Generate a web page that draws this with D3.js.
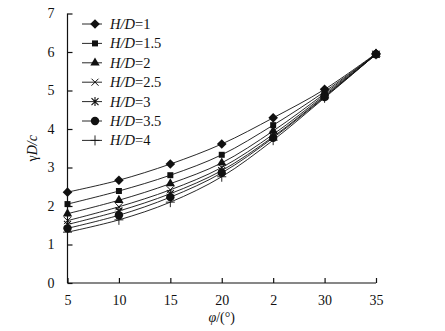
<!DOCTYPE html>
<html>
<head>
<meta charset="utf-8">
<script src="https://cdn.jsdelivr.net/npm/d3@7"></script>
<style>
  body { margin: 0; background: #fff; }
  text { font-family: "Liberation Serif", "DejaVu Serif", serif; fill: #111; }
</style>
</head>
<body>
<div class="vis"></div>
<script>
// x categories (the "2" label is as printed in the original, standing for 25)
const phi = [5, 10, 15, 20, 25, 30, 35];
const xTickLabels = ['5', '10', '15', '20', '2', '30', '35'];
const yTicks = [0, 1, 2, 3, 4, 5, 6, 7];

// gamma*D/c for each H/D
const hd1   = [2.36, 2.67, 3.09, 3.61, 4.29, 5.03, 5.96];
const hd1_5 = [2.05, 2.39, 2.80, 3.33, 4.10, 4.97, 5.95];
const hd2   = [1.80, 2.15, 2.58, 3.12, 3.95, 4.92, 5.95];
const hd2_5 = [1.62, 1.98, 2.42, 3.00, 3.86, 4.88, 5.94];
const hd3   = [1.52, 1.87, 2.32, 2.92, 3.80, 4.85, 5.94];
const hd3_5 = [1.42, 1.76, 2.23, 2.86, 3.77, 4.83, 5.94];
const hd4   = [1.32, 1.64, 2.10, 2.76, 3.71, 4.81, 5.94];

const seriesNames = ['1', '1.5', '2', '2.5', '3', '3.5', '4'];
const seriesValues = [hd1, hd1_5, hd2, hd2_5, hd3, hd3_5, hd4];
const markers = ['diamond', 'square', 'triangle', 'x', 'star', 'circle', 'plus'];

const draw = () => {
  const width = 445, height = 331;
  const margin = {left: 67.5, right: 69, top: 13.5, bottom: 48};

  const svg = d3.select('.vis').append('svg')
    .attr('width', width).attr('height', height);

  const x = d3.scaleLinear().domain([5, 35]).range([margin.left, width - margin.right]);
  const y = d3.scaleLinear().domain([0, 7]).range([height - margin.bottom, margin.top]);

  // axes
  const xAxis = d3.axisBottom(x).tickValues(phi)
    .tickFormat((d, i) => xTickLabels[i]).tickSize(-5).tickPadding(12);
  const gx = svg.append('g').attr('transform', `translate(0,${y(0)})`).call(xAxis);
  gx.select('.domain').attr('d', `M${x(5)},0H${x(35)}`);

  const yAxis = d3.axisLeft(y).tickValues(yTicks).tickFormat(d3.format('d'))
    .tickSize(-5).tickPadding(13);
  const gy = svg.append('g').attr('transform', `translate(${x(5)},0)`).call(yAxis);
  gy.select('.domain').attr('d', `M0,${y(7)}V${y(0)}`);

  svg.selectAll('.tick text').style('font-size', '14px')
    .style('font-family', '"Liberation Serif", serif').attr('fill', '#111');
  svg.selectAll('.domain, .tick line').attr('stroke', '#111').attr('stroke-width', 1.2);

  // curves
  const line = d3.line()
    .x((d, i) => x(phi[i]))
    .y(d => y(d))
    .curve(d3.curveCatmullRom.alpha(0.5));

  svg.append('g').selectAll('path')
    .data(seriesValues)
    .enter().append('path')
    .attr('d', line)
    .attr('fill', 'none')
    .attr('stroke', '#111')
    .attr('stroke-width', 0.9);

  // marker builder
  const drawMarker = (g, type) => {
    if (type === 'diamond') {
      g.append('path').attr('d', 'M0,-4.8L4.8,0L0,4.8L-4.8,0Z').attr('fill', '#111');
    } else if (type === 'square') {
      g.append('path').attr('d', d3.symbol(d3.symbolSquare, 36)).attr('fill', '#111');
    } else if (type === 'triangle') {
      g.append('path').attr('d', d3.symbol(d3.symbolTriangle, 38)).attr('fill', '#111');
    } else if (type === 'x') {
      g.append('path').attr('d', 'M-3.5,-3.5L3.5,3.5M-3.5,3.5L3.5,-3.5').attr('stroke', '#111').attr('stroke-width', 1);
    } else if (type === 'star') {
      g.append('path').attr('d', 'M-3.5,-3.5L3.5,3.5M-3.5,3.5L3.5,-3.5M0,-4.5V4.5').attr('stroke', '#111').attr('stroke-width', 1.1);
    } else if (type === 'circle') {
      g.append('circle').attr('r', 4.2).attr('fill', '#111');
    } else if (type === 'plus') {
      g.append('path').attr('d', 'M-4.5,0H4.5M0,-5V5').attr('stroke', '#111').attr('stroke-width', 0.9);
    }
  };

  seriesValues.forEach((vals, s) => {
    vals.forEach((v, i) => {
      const g = svg.append('g').attr('transform', `translate(${x(phi[i])},${y(v)})`);
      drawMarker(g, markers[s]);
    });
  });

  // legend
  const legend = svg.append('g').attr('transform', 'translate(82,24)');
  seriesNames.forEach((name, i) => {
    const row = legend.append('g').attr('transform', `translate(0,${i * 19.4})`);
    row.append('line').attr('x1', 0).attr('x2', 20).attr('y1', 0).attr('y2', 0)
      .attr('stroke', '#111').attr('stroke-width', 0.9);
    const m = row.append('g').attr('transform', 'translate(13,0)');
    drawMarker(m, markers[i]);
    const t = row.append('text').attr('x', 28).attr('y', 5).style('font-size', '14.5px');
    t.append('tspan').style('font-style', 'italic').text('H/D');
    t.append('tspan').text('=' + name);
  });

  // axis titles
  const xt = svg.append('text').attr('x', x(20)).attr('y', 322)
    .attr('text-anchor', 'middle').style('font-size', '14px');
  xt.append('tspan').style('font-style', 'italic').text('φ');
  xt.append('tspan').text('/(°)');

  const yt = svg.append('text')
    .attr('transform', `translate(37,${(y(0) + y(7)) / 2}) rotate(-90)`)
    .attr('text-anchor', 'middle').style('font-size', '14px');
  yt.append('tspan').text('γ');
  yt.append('tspan').style('font-style', 'italic').text('D/c');
};

draw();
</script>
</body>
</html>
